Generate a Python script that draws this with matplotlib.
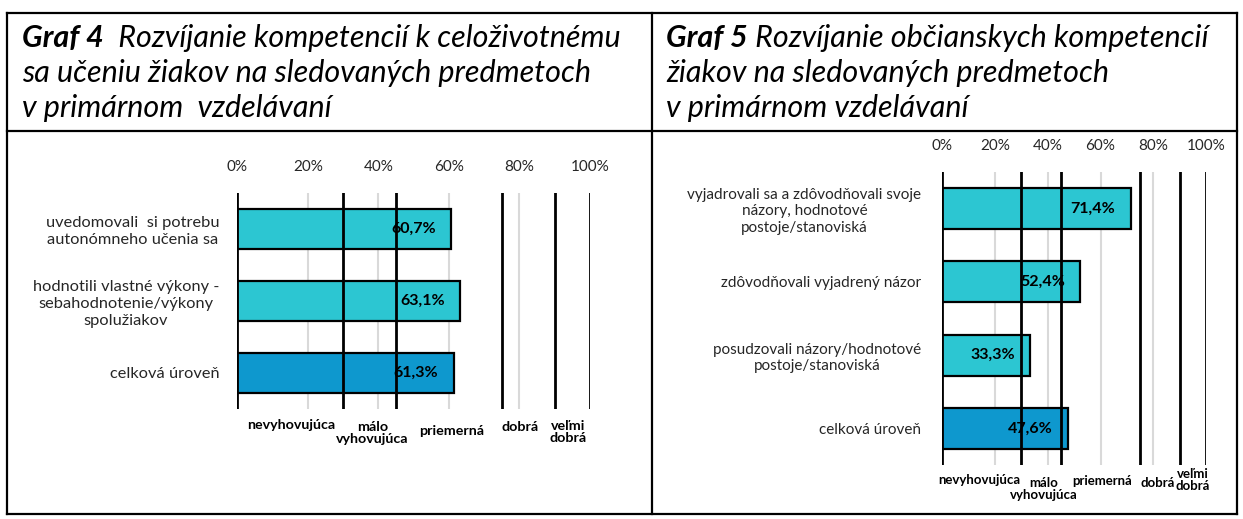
import matplotlib
matplotlib.use("Agg")
import matplotlib.pyplot as plt
from matplotlib.lines import Line2D

plt.rcParams['font.family'] = ['Lato', 'DejaVu Sans']

# ---- data ----
g4_labels = ["uvedomovali  si potrebu\nautonómneho učenia sa",
             "hodnotili vlastné výkony -\nsebahodnotenie/výkony\nspolužiakov",
             "celková úroveň"]
g4_values = [60.7, 63.1, 61.3]

g5_labels = ["vyjadrovali sa a zdôvodňovali svoje\nnázory, hodnotové\npostoje/stanoviská",
             "zdôvodňovali vyjadrený názor",
             "posudzovali názory/hodnotové\npostoje/stanoviská",
             "celková úroveň"]
g5_values = [71.4, 52.4, 33.3, 47.6]

tick_values = [0, 20, 40, 60, 80, 100]
tick_labels = ["0%", "20%", "40%", "60%", "80%", "100%"]
band_edges = [0, 30, 45, 75, 90, 100]
band_names = ["nevyhovujúca", "málo\nvyhovujúca", "priemerná", "dobrá", "veľmi\ndobrá"]

title4 = ("Graf 4", "  Rozvíjanie kompetencií k celoživotnému",
          ["sa učeniu žiakov na sledovaných predmetoch", "v primárnom  vzdelávaní"])
title5 = ("Graf 5", " Rozvíjanie občianskych kompetencií",
          ["žiakov na sledovaných predmetoch", "v primárnom vzdelávaní"])

TEAL = '#2CC6D2'
BLUE = '#0E98CE'

W, H = 1243, 519
fig = plt.figure(figsize=(W / 100, H / 100), dpi=100)


def px_box(x0, y0, x1, y1):
    return [x0 / W, 1 - y1 / H, (x1 - x0) / W, (y1 - y0) / H]


def fline(x0, y0, x1, y1):
    fig.add_artist(Line2D([x0 / W, x1 / W], [1 - y0 / H, 1 - y1 / H],
                          color='black', lw=1.6, transform=fig.transFigure))


def draw_chart(box, labels, values, label_pad, fs_lab, band_dy, band_dx, fs_band):
    ax = fig.add_axes(px_box(*box))
    n = len(values)
    colors = [TEAL] * (n - 1) + [BLUE]
    ypos = list(range(n))
    for x in [20, 40, 60, 80]:
        ax.axvline(x, color='#D9D9D9', lw=1.5, zorder=0)
    ax.barh(ypos, values, height=0.56, color=colors, edgecolor='black',
            linewidth=1.6, zorder=2)
    for x in band_edges:
        ax.axvline(x, color='black', lw=2, zorder=3)
    for y, v in zip(ypos, values):
        ax.annotate(f"{v:.1f}%".replace('.', ','), xy=(v, y), xytext=(-11, 0),
                    textcoords='offset points', ha='right', va='center',
                    fontsize=11.5, fontweight='bold', zorder=4)
    ax.set_xlim(0, 100)
    ax.set_ylim(n - 0.5, -0.5)
    ax.xaxis.tick_top()
    ax.set_xticks(tick_values)
    ax.set_xticklabels(tick_labels, fontsize=11, color='#262626')
    ax.tick_params(axis='x', length=0, pad=14)
    ax.set_yticks(ypos)
    ax.set_yticklabels(labels, fontsize=fs_lab, color='#262626', linespacing=1.25)
    for t in ax.get_yticklabels():
        t.set_multialignment('center')
    ax.tick_params(axis='y', length=0, pad=label_pad)
    for s in ax.spines.values():
        s.set_visible(False)
    for i, name in enumerate(band_names):
        mid = (band_edges[i] + band_edges[i + 1]) / 2
        ax.annotate(name, xy=(mid, 0), xycoords=('data', 'axes fraction'),
                    xytext=(band_dx[i] * 0.72, -band_dy[i] * 0.72),
                    textcoords='offset points',
                    ha='center', va='center', fontsize=fs_band,
                    fontweight='bold', linespacing=1.0)
    return ax


draw_chart((237.3, 193, 590, 409), g4_labels, g4_values, 13, 11.8,
           [16, 24, 22, 18, 23], [1, 3, 3, -8, -4], 10.3)
draw_chart((942.3, 172, 1206, 465), g5_labels, g5_values, 15, 11,
           [15, 24, 16, 18, 15], [-3, 3, 2, -2, 0], 9.5)

# table frame
fline(7, 13, 1237, 13)
fline(7, 514, 1237, 514)
fline(7, 13, 7, 514)
fline(1237, 13, 1237, 514)
fline(652, 13, 652, 514)
fline(7, 131, 1237, 131)

renderer = fig.canvas.get_renderer()


def draw_title(x, t):
    bold, rest, lines = t
    fs = 22
    y0 = 38
    t1 = fig.text(x / W, 1 - y0 / H, bold, fontsize=fs, fontweight='bold',
                  fontstyle='italic', va='center', ha='left')
    bb = t1.get_window_extent(renderer)
    fig.text(bb.x1 / W, 1 - y0 / H, rest, fontsize=fs, fontstyle='italic',
             va='center', ha='left')
    for k, line in enumerate(lines):
        fig.text(x / W, 1 - (y0 + 35 * (k + 1)) / H, line, fontsize=fs,
                 fontstyle='italic', va='center', ha='left')


draw_title(22, title4)
draw_title(666, title5)

fig.savefig("out.png", dpi=100)
